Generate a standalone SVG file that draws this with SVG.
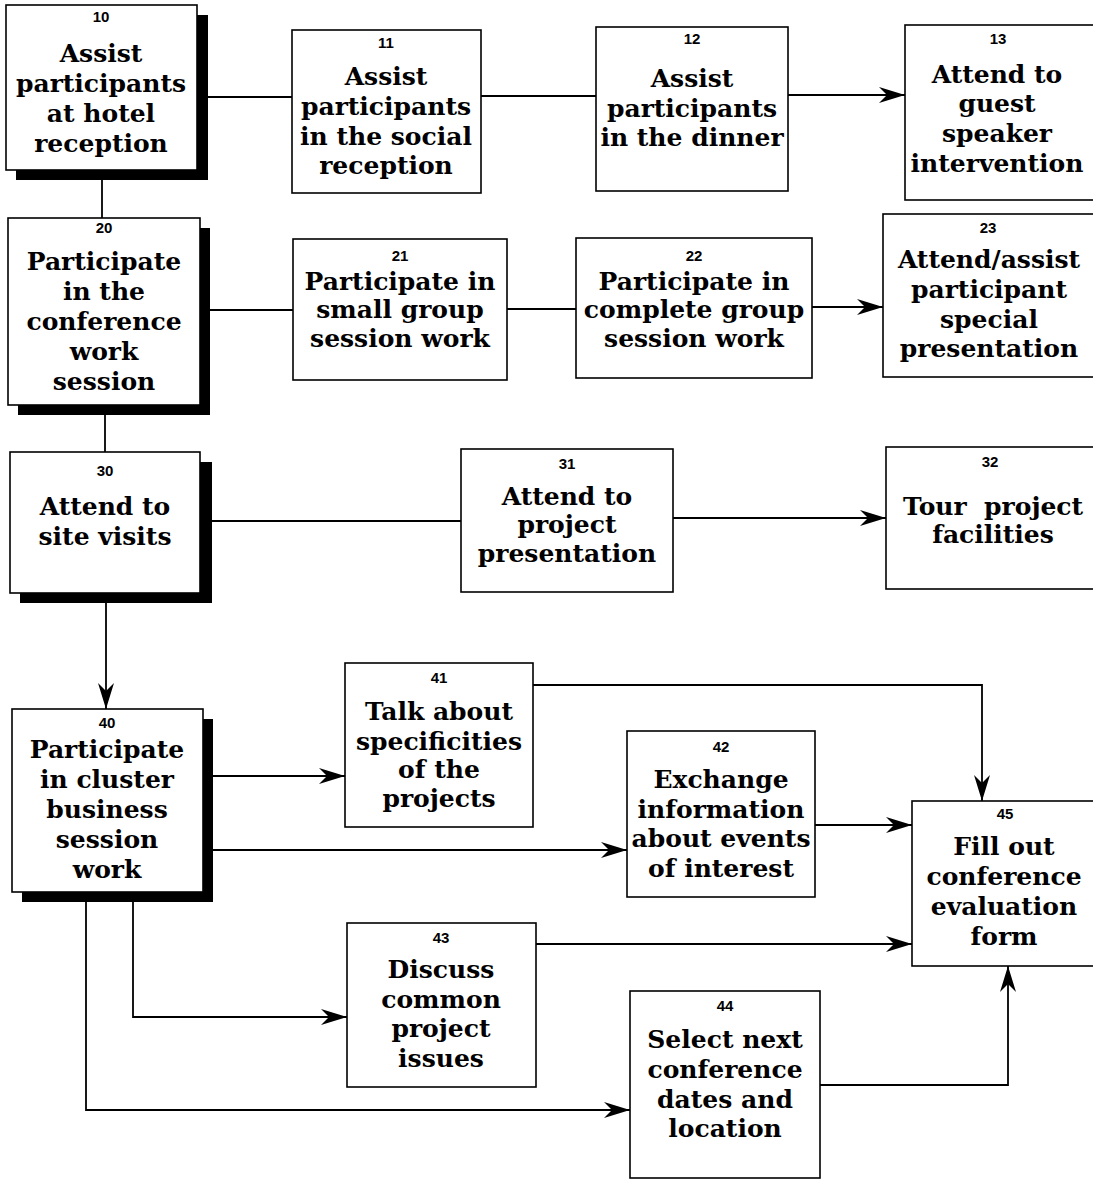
<svg xmlns="http://www.w3.org/2000/svg" width="1093" height="1180" viewBox="0 0 1093 1180">
<style>
.box{fill:#fff;stroke:#000;stroke-width:1.6}
.sh{fill:#000}
.t{font-family:"DejaVu Serif","Liberation Serif",serif;font-weight:bold;font-size:25px;text-anchor:middle;fill:#000}
.n{font-family:"Liberation Sans Narrow","Liberation Sans",sans-serif;font-weight:bold;font-size:15px;text-anchor:middle;fill:#000}
.c{fill:none;stroke:#000;stroke-width:1.8}
</style>
<defs>
<marker id="ah" markerUnits="userSpaceOnUse" markerWidth="27" markerHeight="16" refX="26" refY="8" orient="auto">
<path d="M0,0 L26,8 L0,16 L8,8 Z" fill="#000"/>
</marker>
</defs>
<rect width="1093" height="1180" fill="#fff"/>
<g id="connectors">
<path class="c" d="M208,97 H292"/>
<path class="c" d="M481,96 H596"/>
<path class="c" d="M788,95 H905" marker-end="url(#ah)"/>
<path class="c" d="M102,180 V218"/>
<path class="c" d="M210,310 H293"/>
<path class="c" d="M507,309 H576"/>
<path class="c" d="M812,307 H883" marker-end="url(#ah)"/>
<path class="c" d="M105,415 V452"/>
<path class="c" d="M212,521 H461"/>
<path class="c" d="M673,518 H886" marker-end="url(#ah)"/>
<path class="c" d="M106,603 V709" marker-end="url(#ah)"/>
<path class="c" d="M213,776 H345" marker-end="url(#ah)"/>
<path class="c" d="M213,850 H627" marker-end="url(#ah)"/>
<path class="c" d="M133,902 V1017 H347" marker-end="url(#ah)"/>
<path class="c" d="M86,902 V1110 H630" marker-end="url(#ah)"/>
<path class="c" d="M533,685 H982 V801" marker-end="url(#ah)"/>
<path class="c" d="M815,825 H912" marker-end="url(#ah)"/>
<path class="c" d="M536,944 H912" marker-end="url(#ah)"/>
<path class="c" d="M820,1085 H1008 V966" marker-end="url(#ah)"/>
</g>
<g id="n10">
<rect class="sh" x="16" y="15" width="192" height="165"/>
<rect class="box" x="6" y="5" width="191" height="165"/>
<text class="n" x="101" y="22">10</text>
<text class="t" x="101" y="62">Assist</text>
<text class="t" x="101" y="92">participants</text>
<text class="t" x="101" y="122">at hotel</text>
<text class="t" x="101" y="152">reception</text>
</g>
<g id="n11">
<rect class="box" x="292" y="30" width="189" height="163"/>
<text class="n" x="386" y="48">11</text>
<text class="t" x="386" y="85">Assist</text>
<text class="t" x="386" y="115">participants</text>
<text class="t" x="386" y="145">in the social</text>
<text class="t" x="386" y="174">reception</text>
</g>
<g id="n12">
<rect class="box" x="596" y="27" width="192" height="164"/>
<text class="n" x="692" y="44">12</text>
<text class="t" x="692" y="87">Assist</text>
<text class="t" x="692" y="117">participants</text>
<text class="t" x="692" y="146">in the dinner</text>
</g>
<g id="n13">
<rect class="box" x="905" y="25" width="200" height="175"/>
<text class="n" x="998" y="44">13</text>
<text class="t" x="997" y="83">Attend to</text>
<text class="t" x="997" y="112">guest</text>
<text class="t" x="997" y="142">speaker</text>
<text class="t" x="997" y="172">intervention</text>
</g>
<g id="n20">
<rect class="sh" x="18" y="228" width="192" height="187"/>
<rect class="box" x="8" y="218" width="192" height="187"/>
<text class="n" x="104" y="233">20</text>
<text class="t" x="104" y="270">Participate</text>
<text class="t" x="104" y="300">in the</text>
<text class="t" x="104" y="330">conference</text>
<text class="t" x="104" y="360">work</text>
<text class="t" x="104" y="390">session</text>
</g>
<g id="n21">
<rect class="box" x="293" y="239" width="214" height="141"/>
<text class="n" x="400" y="261">21</text>
<text class="t" x="400" y="290">Participate in</text>
<text class="t" x="400" y="318">small group</text>
<text class="t" x="400" y="347">session work</text>
</g>
<g id="n22">
<rect class="box" x="576" y="238" width="236" height="140"/>
<text class="n" x="694" y="261">22</text>
<text class="t" x="694" y="290">Participate in</text>
<text class="t" x="694" y="318">complete group</text>
<text class="t" x="694" y="347">session work</text>
</g>
<g id="n23">
<rect class="box" x="883" y="214" width="220" height="163"/>
<text class="n" x="988" y="233">23</text>
<text class="t" x="989" y="268">Attend/assist</text>
<text class="t" x="989" y="298">participant</text>
<text class="t" x="989" y="328">special</text>
<text class="t" x="989" y="357">presentation</text>
</g>
<g id="n30">
<rect class="sh" x="20" y="462" width="192" height="141"/>
<rect class="box" x="10" y="452" width="190" height="141"/>
<text class="n" x="105" y="476">30</text>
<text class="t" x="105" y="515">Attend to</text>
<text class="t" x="105" y="545">site visits</text>
</g>
<g id="n31">
<rect class="box" x="461" y="449" width="212" height="143"/>
<text class="n" x="567" y="469">31</text>
<text class="t" x="567" y="505">Attend to</text>
<text class="t" x="567" y="533">project</text>
<text class="t" x="567" y="562">presentation</text>
</g>
<g id="n32">
<rect class="box" x="886" y="447" width="217" height="142"/>
<text class="n" x="990" y="467">32</text>
<text class="t" x="993" y="515" xml:space="preserve">Tour  project</text>
<text class="t" x="993" y="543">facilities</text>
</g>
<g id="n40">
<rect class="sh" x="22" y="719" width="191" height="183"/>
<rect class="box" x="12" y="709" width="191" height="183"/>
<text class="n" x="107" y="728">40</text>
<text class="t" x="107" y="758">Participate</text>
<text class="t" x="107" y="788">in cluster</text>
<text class="t" x="107" y="818">business</text>
<text class="t" x="107" y="848">session</text>
<text class="t" x="107" y="878">work</text>
</g>
<g id="n41">
<rect class="box" x="345" y="663" width="188" height="164"/>
<text class="n" x="439" y="683">41</text>
<text class="t" x="439" y="720">Talk about</text>
<text class="t" x="439" y="750">specificities</text>
<text class="t" x="439" y="778">of the</text>
<text class="t" x="439" y="807">projects</text>
</g>
<g id="n42">
<rect class="box" x="627" y="731" width="188" height="166"/>
<text class="n" x="721" y="752">42</text>
<text class="t" x="721" y="788">Exchange</text>
<text class="t" x="721" y="818">information</text>
<text class="t" x="721" y="847">about events</text>
<text class="t" x="721" y="877">of interest</text>
</g>
<g id="n43">
<rect class="box" x="347" y="923" width="189" height="164"/>
<text class="n" x="441" y="943">43</text>
<text class="t" x="441" y="978">Discuss</text>
<text class="t" x="441" y="1008">common</text>
<text class="t" x="441" y="1037">project</text>
<text class="t" x="441" y="1067">issues</text>
</g>
<g id="n44">
<rect class="box" x="630" y="991" width="190" height="187"/>
<text class="n" x="725" y="1011">44</text>
<text class="t" x="725" y="1048">Select next</text>
<text class="t" x="725" y="1078">conference</text>
<text class="t" x="725" y="1108">dates and</text>
<text class="t" x="725" y="1137">location</text>
</g>
<g id="n45">
<rect class="box" x="912" y="801" width="191" height="165"/>
<text class="n" x="1005" y="819">45</text>
<text class="t" x="1004" y="855">Fill out</text>
<text class="t" x="1004" y="885">conference</text>
<text class="t" x="1004" y="915">evaluation</text>
<text class="t" x="1004" y="945">form</text>
</g>
</svg>
